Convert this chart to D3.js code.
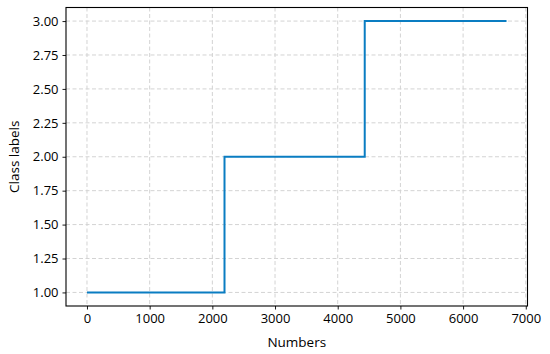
<!DOCTYPE html>
<html lang="en">
<head>
<meta charset="UTF-8">
<title>class labels</title>
<script src="https://cdn.jsdelivr.net/npm/d3@7"></script>
<style>
  html, body { margin: 0; padding: 0; background: #fff; }
  * { font-family: "Open Sans", "Noto Sans", sans-serif; }
</style>
</head>
<body>
<svg id="chart" width="550" height="354"></svg>
<script>
// step points: index where each class starts, plus the last index
const stepX = [0, 2194, 4431, 6693];
const stepY = [1, 2, 3, 3];
const xTicks = [0, 1000, 2000, 3000, 4000, 5000, 6000, 7000];
const yTicks = [1.00, 1.25, 1.50, 1.75, 2.00, 2.25, 2.50, 2.75, 3.00];

const mLeft = 66, mRight = 527.5, mTop = 7.5, mBottom = 306;
const svg = d3.select("#chart");

const xPad = (stepX[stepX.length - 1] - stepX[0]) * 0.05;
const x = d3.scaleLinear()
    .domain([stepX[0] - xPad, stepX[stepX.length - 1] + xPad])
    .range([mLeft, mRight]);
const y = d3.scaleLinear()
    .domain([0.9, 3.1])
    .range([mBottom, mTop]);

// grid
const grid = svg.append("g")
    .attr("stroke", "#d3d3d3")
    .attr("stroke-width", 1)
    .attr("stroke-dasharray", "4,2.5");
grid.selectAll("line.gx")
    .data(xTicks)
    .join("line")
    .attr("class", "gx")
    .attr("x1", d => x(d)).attr("x2", d => x(d))
    .attr("y1", mTop).attr("y2", mBottom);
grid.selectAll("line.gy")
    .data(yTicks)
    .join("line")
    .attr("class", "gy")
    .attr("x1", mLeft).attr("x2", mRight)
    .attr("y1", d => y(d)).attr("y2", d => y(d));

// line
const pts = stepX.map((d, i) => [d, stepY[i]]);
svg.append("path")
    .datum(pts)
    .attr("fill", "none")
    .attr("stroke", "#0a7dc2")
    .attr("stroke-width", 2)
    .attr("d", d3.line()
        .x(d => x(d[0]))
        .y(d => y(d[1]))
        .curve(d3.curveStepAfter));

// axes
const xAxis = svg.append("g")
    .attr("transform", `translate(0,${mBottom})`)
    .call(d3.axisBottom(x).tickValues(xTicks).tickSize(3.5).tickPadding(4).tickFormat(d3.format("d")));
const yAxis = svg.append("g")
    .attr("transform", `translate(${mLeft},0)`)
    .call(d3.axisLeft(y).tickValues(yTicks).tickSize(3.5).tickPadding(4).tickFormat(d3.format(".2f")));
[xAxis, yAxis].forEach(a => {
    a.select(".domain").remove();
    a.selectAll("text").attr("font-size", 13).attr("fill", "#000")
        .attr("font-family", "'Open Sans', 'Noto Sans', sans-serif");
    a.selectAll("line").attr("stroke", "#000").attr("stroke-width", 0.9);
});

// frame
svg.append("rect")
    .attr("x", mLeft).attr("y", mTop)
    .attr("width", mRight - mLeft).attr("height", mBottom - mTop)
    .attr("fill", "none")
    .attr("stroke", "#000")
    .attr("stroke-width", 1.1);

// labels
svg.append("text")
    .attr("x", (mLeft + mRight) / 2)
    .attr("y", 347)
    .attr("text-anchor", "middle")
    .attr("font-size", 13.5)
    .text("Numbers");
svg.append("text")
    .attr("transform", `translate(19,${(mTop + mBottom) / 2}) rotate(-90)`)
    .attr("text-anchor", "middle")
    .attr("font-size", 13.5)
    .text("Class labels");
</script>
</body>
</html>
